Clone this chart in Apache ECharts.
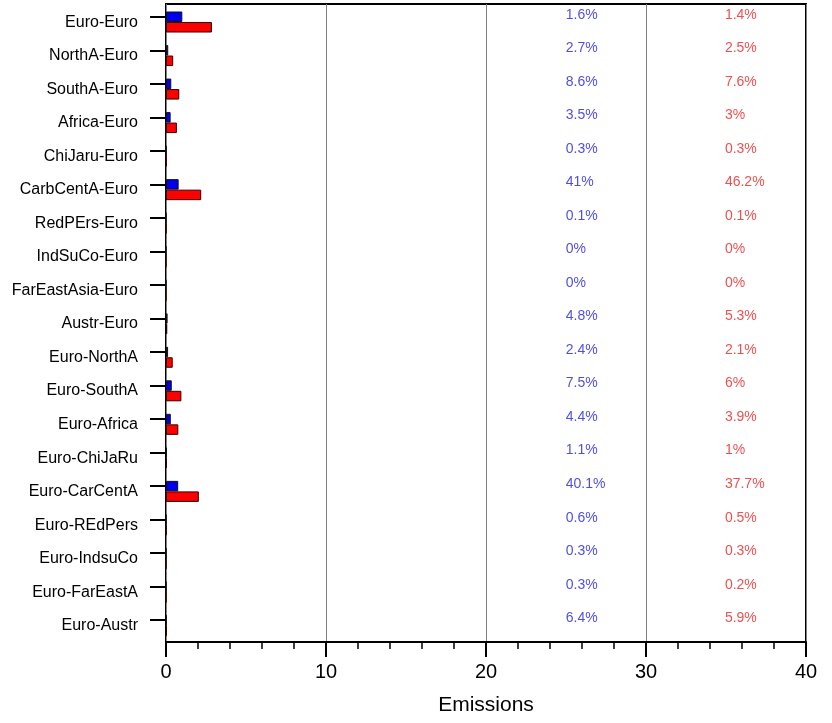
<!DOCTYPE html>
<html>
<head>
<meta charset="utf-8">
<script src="https://cdn.jsdelivr.net/npm/echarts@6/dist/echarts.min.js"></script>
<style>
html,body{margin:0;padding:0;background:#fff;}
#chart{width:832px;height:723px;}
</style>
</head>
<body>
<div id="chart"></div>
<script>
var categories = ['Euro-Euro','NorthA-Euro','SouthA-Euro','Africa-Euro','ChiJaru-Euro','CarbCentA-Euro','RedPErs-Euro','IndSuCo-Euro','FarEastAsia-Euro','Austr-Euro','Euro-NorthA','Euro-SouthA','Euro-Africa','Euro-ChiJaRu','Euro-CarCentA','Euro-REdPers','Euro-IndsuCo','Euro-FarEastA','Euro-Austr'];
var blueValues = [1.02, 0.14, 0.33, 0.29, 0.02, 0.79, 0.01, 0, 0, 0.1, 0.13, 0.36, 0.3, 0.04, 0.76, 0.02, 0.01, 0.01, 0.03];
var redValues  = [2.87, 0.45, 0.83, 0.68, 0.03, 2.2, 0.01, 0, 0, 0.08, 0.42, 0.96, 0.77, 0.05, 2.05, 0.03, 0.01, 0.01, 0.04];
var bluePct = ['1.6%','2.7%','8.6%','3.5%','0.3%','41%','0.1%','0%','0%','4.8%','2.4%','7.5%','4.4%','1.1%','40.1%','0.6%','0.3%','0.3%','6.4%'];
var redPct  = ['1.4%','2.5%','7.6%','3%','0.3%','46.2%','0.1%','0%','0%','5.3%','2.1%','6%','3.9%','1%','37.7%','0.5%','0.3%','0.2%','5.9%'];
var xTicks = [0, 10, 20, 30, 40];

var FONT = "'Liberation Sans', Arial, Helvetica, sans-serif";
var chart = echarts.init(document.getElementById('chart'), null, {renderer: 'canvas'});

var blueTextX = 24.95, redTextX = 34.9;

var option = {
  backgroundColor: '#fff',
  animation: false,
  textStyle: {fontFamily: FONT},
  grid: [
    {left: 166, right: 26, top: 4, bottom: 81, show: true, borderColor: '#000', borderWidth: 2, backgroundColor: 'transparent'},
    {left: 166, right: 26, top: -2, bottom: 86, show: false}
  ],
  xAxis: [
    {
      gridIndex: 0, type: 'value', min: xTicks[0], max: xTicks[xTicks.length - 1], interval: 10,
      axisLine: {show: true, lineStyle: {color: '#000', width: 2}},
      axisTick: {show: true, length: 15, lineStyle: {color: '#000', width: 2}},
      minorTick: {show: true, splitNumber: 5, length: 7, lineStyle: {color: '#000', width: 1.5}},
      splitLine: {show: true, lineStyle: {color: '#808080', width: 1}},
      axisLabel: {fontSize: 20, color: '#000', margin: 20, fontFamily: FONT},
      name: 'Emissions', nameLocation: 'middle', nameGap: 53,
      nameTextStyle: {fontSize: 21, color: '#000', fontFamily: FONT}
    },
    {gridIndex: 1, type: 'value', min: xTicks[0], max: xTicks[xTicks.length - 1], show: false}
  ],
  yAxis: [
    {gridIndex: 0, type: 'value', min: 0, max: 1, show: false},
    {
      gridIndex: 1, type: 'category', data: categories, inverse: true,
      axisLine: {show: false},
      axisTick: {show: true, alignWithLabel: true, length: 16, lineStyle: {color: '#000', width: 2}},
      axisLabel: {fontSize: 16, color: '#000', margin: 28, interval: 0, fontFamily: FONT, verticalAlign: 'top', lineHeight: 11},
      splitLine: {show: false}
    }
  ],
  series: [
    {
      type: 'bar', name: 'spacer', xAxisIndex: 1, yAxisIndex: 1, silent: true,
      data: categories.map(function(){ return 0; }),
      barWidth: 10.5, barGap: '0%', itemStyle: {color: 'transparent'}
    },
    {
      type: 'bar', name: 'blue', xAxisIndex: 1, yAxisIndex: 1,
      data: blueValues, barWidth: 10.5, barGap: '0%',
      itemStyle: {color: '#0000ee', borderColor: '#111', borderWidth: 1}
    },
    {
      type: 'bar', name: 'red', xAxisIndex: 1, yAxisIndex: 1,
      data: redValues, barWidth: 10.5, barGap: '0%',
      itemStyle: {color: '#ff0000', borderColor: '#330000', borderWidth: 1}
    },
    {
      type: 'scatter', xAxisIndex: 1, yAxisIndex: 1, symbolSize: 1,
      itemStyle: {color: 'transparent'}, silent: true,
      data: bluePct.map(function(p, i){ return [blueTextX, i]; }),
      label: {show: true, position: 'right', distance: 0, offset: [0, -2],
        formatter: function(p){ return bluePct[p.dataIndex]; },
        fontSize: 14, color: '#2222dd', fontFamily: FONT}
    },
    {
      type: 'scatter', xAxisIndex: 1, yAxisIndex: 1, symbolSize: 1,
      itemStyle: {color: 'transparent'}, silent: true,
      data: redPct.map(function(p, i){ return [redTextX, i]; }),
      label: {show: true, position: 'right', distance: 0, offset: [0, -2],
        formatter: function(p){ return redPct[p.dataIndex]; },
        fontSize: 14, color: '#e82424', fontFamily: FONT}
    }
  ]
};
chart.setOption(option);
</script>
</body>
</html>
